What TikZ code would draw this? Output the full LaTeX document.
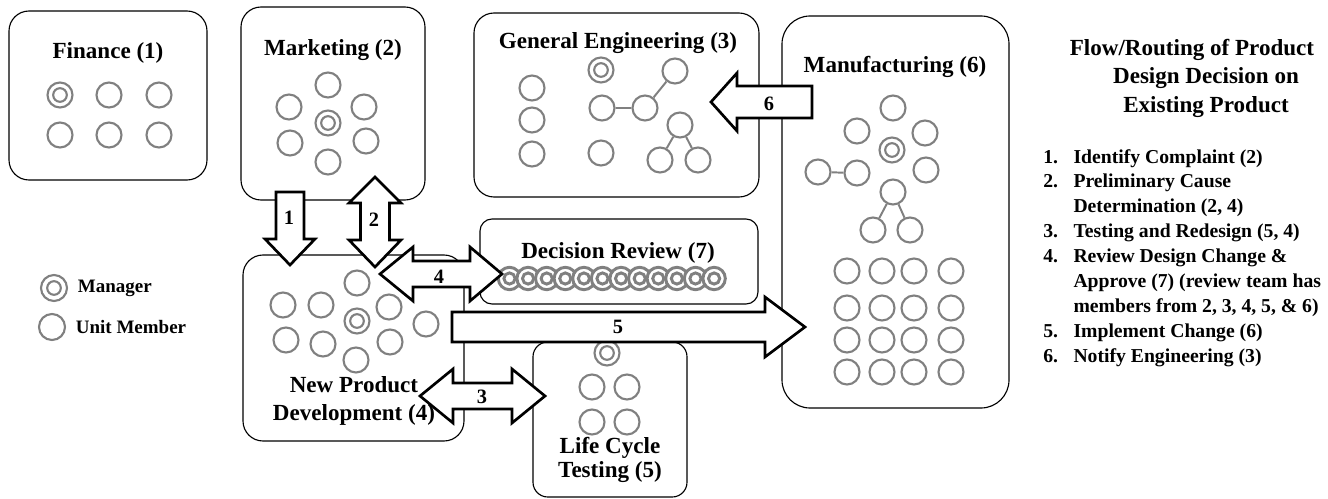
\documentclass[tikz,border=0pt]{standalone}
\usepackage{fontspec}
\setmainfont{Liberation Serif}
\usepackage{tikz}
\usetikzlibrary{positioning,fit}

\begin{document}
\begin{tikzpicture}[x=0.025cm, y=-0.025cm, font=\bfseries,
		unitbox/.style={draw, line width=0.8pt, rounded corners=0.5cm, inner sep=0pt},
		boxtitle/.style={font=\fontsize{16.4}{19.8}\selectfont\bfseries, align=center, inner sep=0pt},
		member/.style={circle, draw=gray, line width=1.5pt, fill=white, minimum size=0.625cm, inner sep=0pt},
		manager/.style={member, path picture={\draw[gray, line width=1.5pt]
				(path picture bounding box.center) circle[radius=0.17cm];}},
		chainmgr/.style={member, minimum size=0.56cm, line width=2.1pt, path picture={\draw[gray, line width=2.1pt]
				(path picture bounding box.center) circle[radius=0.14cm];}},
		tie/.style={draw=gray, line width=1.4pt},
		blockarrow/.style={draw, line width=1.9pt, fill=white, line join=miter},
		arrowlabel/.style={font=\fontsize{14.5}{17}\selectfont\bfseries, inner sep=0pt},
		legtext/.style={font=\fontsize{13.5}{16}\selectfont\bfseries, inner sep=0pt, anchor=west}]
		\useasboundingbox (0,0) rectangle (1328,499);
		% units
		\node[unitbox, fit={(9,11) (207,180)}] (fin) {};
		\node[unitbox, fit={(241,7) (425,200)}] (mkt) {};
		\node[unitbox, fit={(474,13) (759,197)}] (geng) {};
		\node[unitbox, rounded corners=0.7cm, fit={(782,16) (1009,408)}] (mfg) {};
		\node[unitbox, rounded corners=0.3cm, fit={(480,219) (758,304)}] (drev) {};
		\node[unitbox, fit={(243,255) (464,441)}] (npd) {};
		\node[unitbox, rounded corners=0.37cm, fit={(533,342) (687,497)}] (lct) {};
		% finance members
		\node[manager] (fm) at (60,95) {};
		\node[member] (f1) at (109,95) {};
		\node[member] (f2) at (159,95) {};
		\node[member] (f3) at (60,135) {};
		\node[member] (f4) at (109,135) {};
		\node[member] (f5) at (159,135) {};
		% marketing members
		\node[member] (mk1) at (328,85) {};
		\node[member] (mk2) at (289,107) {};
		\node[member] (mk3) at (364,107) {};
		\node[manager] (mkm) at (328,123) {};
		\node[member] (mk4) at (290,143) {};
		\node[member] (mk5) at (366,141) {};
		\node[member] (mk6) at (328,162) {};
		% general engineering members
		\node[member] (g1) at (532,88) {};
		\node[member] (g2) at (532,120) {};
		\node[member] (g3) at (532,154) {};
		\node[manager] (gm) at (601,70) {};
		\node[member] (g4) at (602,108) {};
		\node[member] (g5) at (645,108) {};
		\node[member] (g6) at (675,71) {};
		\node[member] (g7) at (680,125) {};
		\node[member] (g8) at (660,160) {};
		\node[member] (g9) at (698,160) {};
		\node[member] (g10) at (601,153) {};
		\draw[tie] (g4) -- (g5) -- (g6);
		\draw[tie] (g8) -- (g7) -- (g9);
		% manufacturing members
		\node[member] (mf1) at (893,108) {};
		\node[member] (mf2) at (857,131) {};
		\node[member] (mf3) at (925,133) {};
		\node[manager] (mfm) at (892,150) {};
		\node[member] (mf4) at (926,170) {};
		\node[member] (mf5) at (857,173) {};
		\node[member] (mf6) at (818,172) {};
		\node[member] (mf7) at (893,192) {};
		\node[member] (mf8) at (873,230) {};
		\node[member] (mf9) at (910,230) {};
		\draw[tie] (mf6) -- (mf5);
		\draw[tie] (mf8) -- (mf7) -- (mf9);
		\foreach \cx [count=\i] in {847,882,914,951}
			\foreach \cy [count=\j] in {271,308,340,372}
				\node[member] (mg\i\j) at (\cx,\cy) {};
		% new product development members
		\node[member] (n1) at (283,305) {};
		\node[member] (n2) at (321,305) {};
		\node[member] (n3) at (357,283) {};
		\node[member] (n4) at (389,307) {};
		\node[manager] (nm) at (357,321) {};
		\node[member] (n5) at (426,324) {};
		\node[member] (n6) at (286,340) {};
		\node[member] (n7) at (323,344) {};
		\node[member] (n8) at (390,342) {};
		\node[member] (n9) at (356,360) {};
		% life cycle testing members
		\node[manager] (lm) at (607,353) {};
		\node[member] (l1) at (592,387) {};
		\node[member] (l2) at (627,387) {};
		\node[member] (l3) at (592,422) {};
		\node[member] (l4) at (627,422) {};
		% decision review team
		\foreach \k in {0,...,11}
			\node[chainmgr] (dr\k) at ({509.5+18.6*\k},278.5) {};
		% flow arrows
		\draw[blockarrow] (276,192) -- (304,192) -- (304,239) -- (315,239) -- (290,265)
			-- (265,239) -- (276,239) -- cycle;
		\draw[blockarrow] (375,177) -- (401,203) -- (389.5,203) -- (389.5,240) -- (401,240)
			-- (375,267) -- (349,240) -- (360.5,240) -- (360.5,203) -- (349,203) -- cycle;
		\draw[blockarrow] (380,274) -- (413,247) -- (413,261) -- (470,261) -- (470,247)
			-- (502,274) -- (470,301) -- (470,287) -- (413,287) -- (413,301) -- cycle;
		\draw[blockarrow] (452,312) -- (765,312) -- (765,297) -- (805,327) -- (765,357)
			-- (765,342) -- (452,342) -- cycle;
		\draw[blockarrow] (420,396) -- (453,369) -- (453,383) -- (512,383) -- (512,369)
			-- (545,396) -- (512,423) -- (512,409) -- (453,409) -- (453,423) -- cycle;
		\draw[blockarrow] (711,102) -- (737,73) -- (737,86) -- (812,86) -- (812,118)
			-- (737,118) -- (737,131) -- cycle;
		\node[arrowlabel] (lab1) at (289,218) {1};
		\node[arrowlabel] (lab2) at (374,220) {2};
		\node[arrowlabel] (lab4) at (439,277) {4};
		\node[arrowlabel] (lab5) at (618,327) {5};
		\node[arrowlabel] (lab3) at (482,397) {3};
		\node[arrowlabel] (lab6) at (769,104) {6};
		% titles
		\node[boxtitle] (fint) at (108,53) {Finance (1)};
		\node[boxtitle] (mktt) at (333,50) {Marketing (2)};
		\node[boxtitle] (gengt) at (618,43) {General Engineering (3)};
		\node[boxtitle] (mfgt) at (895,67) {Manufacturing (6)};
		\node[boxtitle] (drevt) at (618,253) {Decision Review (7)};
		\node[boxtitle] (npdt) at (354,401) {New Product\\Development (4)};
		\node[boxtitle, font=\fontsize{16.4}{17.5}\selectfont\bfseries] (lctt) at (610,460) {Life Cycle\\Testing (5)};
		% legend
		\node[manager, minimum size=0.65cm] (lgmgr) at (54,288) {};
		\node[legtext, right=0.24cm of lgmgr] (lgmgrt) {Manager};
		\node[member, minimum size=0.65cm] (lgmem) at (52,327) {};
		\node[legtext, right=0.24cm of lgmem] (lgmemt) {Unit Member};
		% routing steps
		\node[boxtitle, font=\fontsize{16.4}{20.3}\selectfont\bfseries] (flowt) at (1206,78)
			{Flow/Routing of Product\hspace*{0.7cm}\\Design Decision on\\Existing Product};
		\node[anchor=base west, inner sep=0pt, font=\fontsize{14}{17.7}\selectfont\bfseries] (steps) at (1043,163)
			{\begin{tabular}[t]{@{}l@{\hspace{11pt}}l@{}}
				1. & Identify Complaint (2)\\
				2. & Preliminary Cause\\
				& Determination (2, 4)\\
				3. & Testing and Redesign (5, 4)\\
				4. & Review Design Change \&\\
				& Approve (7) (review team has\\
				& members from 2, 3, 4, 5, \& 6)\\
				5. & Implement Change (6)\\
				6. & Notify Engineering (3)
			\end{tabular}};
	\end{tikzpicture}
\end{document}
